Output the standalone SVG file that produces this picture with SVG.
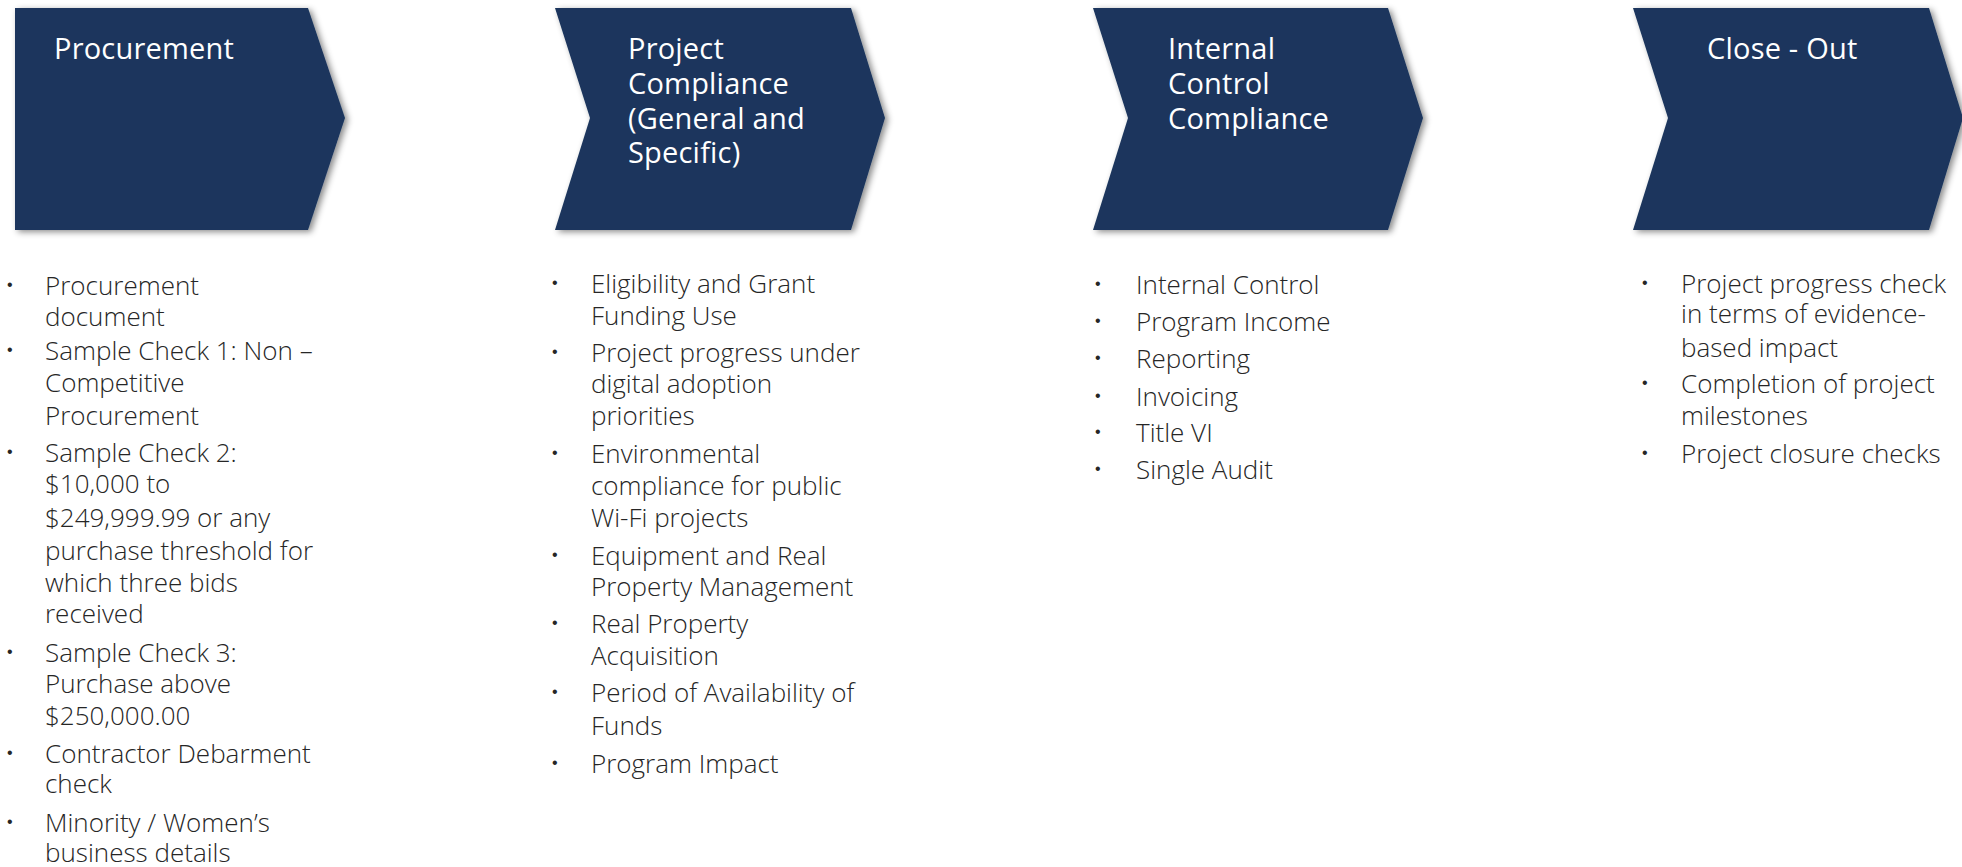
<svg xmlns="http://www.w3.org/2000/svg" width="1962" height="867" viewBox="0 0 1962 867">
<defs>
<filter id="sh" x="-10%" y="-10%" width="125%" height="125%">
<feDropShadow dx="3" dy="2" stdDeviation="3" flood-color="#000" flood-opacity="0.45"/>
</filter>
<style>
.chev{fill:#1B365D;filter:url(#sh);}
.hd{font-family:"Open Sans","Liberation Sans",sans-serif;font-size:29px;fill:#ffffff;letter-spacing:0.2px;}
.bd{font-family:"Open Sans","Liberation Sans",sans-serif;font-size:26px;font-weight:300;fill:#262626;}
.bl{font-family:"Liberation Sans",sans-serif;font-size:16px;fill:#262626;}
</style>
</defs>
<rect width="1962" height="867" fill="#ffffff"/>
<g id="connectors"></g>
<g id="procurement">
<polygon class="chev" points="15,8 308,8 345,118 308,230 15,230"/>
<text class="hd" x="54" y="59">Procurement</text>
<g class="bd">
<text x="45" y="295">Procurement<tspan x="45" y="326">document</tspan></text>
<text x="45" y="360">Sample Check 1: Non –<tspan x="45" y="392">Competitive</tspan><tspan x="45" y="425">Procurement</tspan></text>
<text x="45" y="462">Sample Check 2:<tspan x="45" y="493">$10,000  to</tspan><tspan x="45" y="527">$249,999.99  or any</tspan><tspan x="45" y="560">purchase threshold for</tspan><tspan x="45" y="592">which three bids</tspan><tspan x="45" y="623">received</tspan></text>
<text x="45" y="662">Sample Check 3:<tspan x="45" y="693">Purchase above</tspan><tspan x="45" y="725">$250,000.00</tspan></text>
<text x="45" y="763">Contractor Debarment<tspan x="45" y="793">check</tspan></text>
<text x="45" y="832">Minority / Women’s<tspan x="45" y="862">business details</tspan></text>
</g>
<g class="bl">
<text x="7" y="290">•</text>
<text x="7" y="355">•</text>
<text x="7" y="457">•</text>
<text x="7" y="657">•</text>
<text x="7" y="758">•</text>
<text x="7" y="827">•</text>
</g>
</g>
<g id="project-compliance">
<polygon class="chev" points="555,8 851,8 885,118 851,230 555,230 590,118"/>
<text class="hd" x="628" y="59">Project<tspan x="628" y="94">Compliance</tspan><tspan x="628" y="128.5">(General and</tspan><tspan x="628" y="163">Specific)</tspan></text>
<g class="bd">
<text x="591" y="293">Eligibility and Grant<tspan x="591" y="325">Funding Use</tspan></text>
<text x="591" y="362">Project progress under<tspan x="591" y="393">digital adoption</tspan><tspan x="591" y="425">priorities</tspan></text>
<text x="591" y="463">Environmental<tspan x="591" y="495">compliance for public</tspan><tspan x="591" y="527">Wi-Fi projects</tspan></text>
<text x="591" y="565">Equipment and Real<tspan x="591" y="596">Property Management</tspan></text>
<text x="591" y="633">Real Property<tspan x="591" y="665">Acquisition</tspan></text>
<text x="591" y="702">Period of Availability of<tspan x="591" y="735">Funds</tspan></text>
<text x="591" y="773">Program Impact</text>
</g>
<g class="bl">
<text x="552" y="288">•</text>
<text x="552" y="357">•</text>
<text x="552" y="458">•</text>
<text x="552" y="560">•</text>
<text x="552" y="628">•</text>
<text x="552" y="697">•</text>
<text x="552" y="768">•</text>
</g>
</g>
<g id="internal-control">
<polygon class="chev" points="1093,8 1388,8 1423,118 1388,230 1093,230 1128,118"/>
<text class="hd" x="1168" y="59">Internal<tspan x="1168" y="94">Control</tspan><tspan x="1168" y="128.5">Compliance</tspan></text>
<g class="bd">
<text x="1136" y="294">Internal Control</text>
<text x="1136" y="331">Program Income</text>
<text x="1136" y="368">Reporting</text>
<text x="1136" y="406">Invoicing</text>
<text x="1136" y="442">Title VI</text>
<text x="1136" y="479">Single Audit</text>
</g>
<g class="bl">
<text x="1095" y="289">•</text>
<text x="1095" y="326">•</text>
<text x="1095" y="363">•</text>
<text x="1095" y="401">•</text>
<text x="1095" y="437">•</text>
<text x="1095" y="474">•</text>
</g>
</g>
<g id="close-out">
<polygon class="chev" points="1633,8 1929,8 1963,118 1929,230 1633,230 1668,118"/>
<text class="hd" x="1707" y="59">Close - Out</text>
<g class="bd">
<text x="1681" y="293">Project progress check<tspan x="1681" y="323">in terms of evidence-</tspan><tspan x="1681" y="357">based impact</tspan></text>
<text x="1681" y="393">Completion of project<tspan x="1681" y="425">milestones</tspan></text>
<text x="1681" y="463">Project closure checks</text>
</g>
<g class="bl">
<text x="1642" y="288">•</text>
<text x="1642" y="388">•</text>
<text x="1642" y="458">•</text>
</g>
</g>
</svg>
